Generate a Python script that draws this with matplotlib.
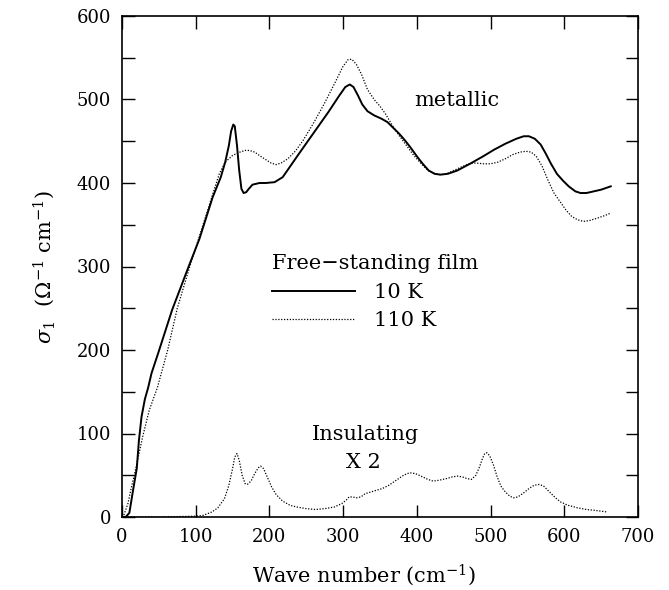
import matplotlib
matplotlib.use("Agg")
import matplotlib.pyplot as plt
from matplotlib.ticker import MultipleLocator
from matplotlib.lines import Line2D

# ---- data ----
x_10K = [0, 5, 10, 15, 20, 23, 26.5, 31, 35.5, 40, 49, 68, 90, 105, 123, 134, 140, 145, 148, 151,
         153, 156, 159, 162, 165, 168.5, 172, 177, 186.5, 195, 207, 218, 240, 260, 280, 295, 303,
         309, 314, 320, 326, 333, 342, 352, 360, 368, 375, 383, 391, 400, 408, 416, 424, 432, 442,
         455, 472, 490, 505, 520, 535, 545, 552, 560, 568, 575, 582, 590, 598, 606, 615, 622, 630,
         640, 650, 663]
y_10K = [0, 0, 5, 32, 58, 92, 120, 141, 155, 172, 196, 248, 299, 333, 383, 407, 425, 445, 462, 470,
         468, 445, 415, 393, 388, 389, 393, 398, 400, 400, 401, 407, 435, 460, 485, 505, 515,
         518, 515, 505, 494, 486, 481, 477, 473, 466, 460, 452, 443, 432, 423, 415, 411, 410, 411,
         415, 423, 432, 440, 447, 453, 456, 456, 453, 446, 435, 423, 411, 403, 396, 390, 388, 388,
         390, 392, 396]

x_110K = [0, 2, 8, 12.6, 19.7, 28, 37, 48, 62, 75, 93, 110, 125, 132, 140, 150, 160, 167, 173, 180,
          188, 195, 202, 209, 216, 225, 235, 245, 260, 275, 290, 300, 307, 312, 318, 325, 333, 342,
          350, 358, 366, 375, 385, 395, 405, 415, 425, 432, 440, 450, 460, 470, 480, 490, 500, 510,
          520, 530, 540, 548, 555, 562, 570, 578, 586, 594, 602, 610, 618, 626, 634, 645, 655, 663]
y_110K = [0, 1, 16, 35, 62, 96, 128, 155, 200, 250, 303, 350, 392, 411, 425, 433, 437, 439, 439, 437,
          432, 428, 424, 422, 424, 429, 438, 450, 472, 496, 522, 540, 548, 548, 542, 530, 512, 500,
          492, 482, 470, 458, 446, 434, 424, 415, 411, 410, 411, 415, 419, 423, 424, 423, 423, 425,
          429, 434, 437, 438, 437, 432, 420, 403, 388, 378, 368, 360, 356, 354, 355, 358, 361, 364]

x_ins = [0, 50, 100, 110, 122, 130, 139, 145, 150, 153, 156, 159, 163, 167, 170, 175, 180, 185, 188,
         192, 197, 203, 209, 218, 228, 237, 250, 262, 275, 288, 298, 304, 308, 313, 318, 324, 330,
         338, 345, 353, 362, 372, 382, 390, 398, 408, 415, 422, 430, 440, 448, 455, 462, 468, 474,
         480, 485, 489, 492, 495, 499, 504, 509, 514, 520, 526, 531, 537, 545, 552, 559, 566, 572,
         580, 588, 595, 605, 618, 630, 641, 650, 658]
y_ins = [0, 0, 1, 2, 6, 11, 22, 38, 58, 72, 76, 68, 50, 40, 39, 43, 52, 59, 61,
         58, 48, 36, 27, 19, 14, 12, 10, 9, 10, 12, 16, 20, 24, 24, 23, 24, 28,
         30, 32, 34, 38, 44, 50, 53, 52, 48, 45, 43, 44, 46, 48, 49, 48, 46, 45,
         50, 60, 70, 76, 77, 73, 62, 48, 37, 30, 25, 23, 24, 29, 34, 38, 39, 37,
         30, 23, 18, 14, 11, 9, 8, 7, 6]

legend_title = "Free\u2212standing film"
legend_labels = ["10 K", "110 K"]
x_ticks = [0, 100, 200, 300, 400, 500, 600, 700]
y_ticks = [0, 100, 200, 300, 400, 500, 600]

# ---- style ----
plt.rcParams['font.family'] = ['DejaVu Serif']
plt.rcParams['mathtext.fontset'] = 'dejavuserif'
dotted = (0, (1, 1.3))

fig = plt.figure(figsize=(6.69, 5.90), dpi=100)
ax = fig.add_axes([122/669, 1 - 517/590, 516/669, 501/590])

ax.plot(x_10K, y_10K, color='black', lw=1.4, ls='-')
ax.plot(x_110K, y_110K, color='black', lw=0.9, ls=dotted)
ax.plot(x_ins, y_ins, color='black', lw=0.9, ls=dotted)

ax.set_xlim(0, 700)
ax.set_ylim(0, 600)
ax.set_xticks(x_ticks)
ax.set_yticks(y_ticks)
ax.yaxis.set_minor_locator(MultipleLocator(50))
ax.tick_params(which='both', direction='in', top=True, right=True,
               length=9, width=1.0, labelsize=13, pad=8, color='black')
for s in ax.spines.values():
    s.set_linewidth(1.2)

ax.set_xlabel('Wave number (cm$^{-1}$)', fontsize=15)
ax.xaxis.set_label_coords(0.47, -0.09)
ax.set_ylabel(r'$\sigma_1$  ($\Omega^{-1}$ cm$^{-1}$)', fontsize=15, labelpad=14)

ax.text(396, 492, 'metallic', fontsize=15, ha='left', va='baseline')
ax.text(330, 92, 'Insulating', fontsize=15, ha='center', va='baseline')
ax.text(328, 59, 'X 2', fontsize=15, ha='center', va='baseline')

handles = [Line2D([], [], color='black', lw=1.4, ls='-'),
           Line2D([], [], color='black', lw=0.9, ls=dotted)]
leg = ax.legend(handles, legend_labels, title=legend_title, loc='upper left',
                bbox_to_anchor=(0.29, 0.524), frameon=False, fontsize=15,
                title_fontsize=15, handlelength=4.0, handletextpad=0.9,
                labelspacing=0.45, borderpad=0, borderaxespad=0, alignment='left')

fig.savefig('out.png', dpi=100)
